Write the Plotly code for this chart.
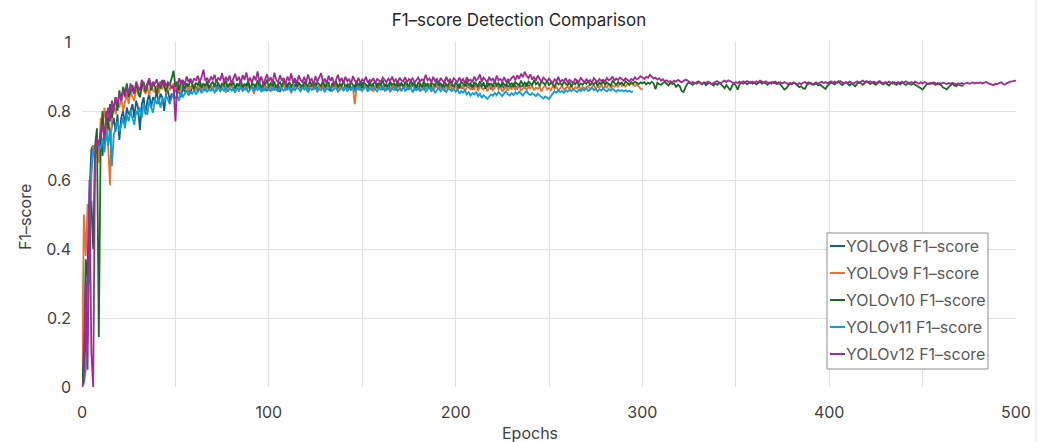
import plotly.graph_objects as go

series_names = ["YOLOv8 F1–score", "YOLOv9 F1–score", "YOLOv10 F1–score",
                "YOLOv11 F1–score", "YOLOv12 F1–score"]

yolov8 = [
    0.000, 0.020, 0.150, 0.360, 0.560, 0.690, 0.700, 0.660, 0.720, 0.690,
    0.740, 0.670, 0.750, 0.720, 0.770, 0.730, 0.760, 0.780, 0.740, 0.790,
    0.716, 0.780, 0.800, 0.760, 0.810, 0.790, 0.800, 0.820, 0.780, 0.830,
    0.810, 0.745, 0.820, 0.840, 0.790, 0.830, 0.850, 0.810, 0.840, 0.830,
    0.860, 0.820, 0.850, 0.840, 0.800, 0.850, 0.860, 0.830, 0.850, 0.840,
    0.870, 0.850, 0.860, 0.840, 0.870, 0.855, 0.880, 0.860, 0.850, 0.875,
    0.862, 0.870, 0.855, 0.878, 0.866, 0.872, 0.858, 0.880, 0.868, 0.874,
    0.860, 0.876, 0.869, 0.882, 0.864, 0.871, 0.878, 0.862, 0.875, 0.868,
    0.880, 0.858, 0.872, 0.866, 0.879, 0.870, 0.861, 0.876, 0.868, 0.882,
    0.865, 0.873, 0.859, 0.878, 0.869, 0.884, 0.862, 0.871, 0.876, 0.858,
    0.874, 0.867, 0.881, 0.863, 0.872, 0.878, 0.855, 0.869, 0.876, 0.864,
    0.879, 0.868, 0.873, 0.860, 0.877, 0.870, 0.884, 0.862, 0.874, 0.868,
    0.880, 0.859, 0.871, 0.876, 0.866, 0.882, 0.861, 0.873, 0.869, 0.878,
    0.864, 0.875, 0.870, 0.858, 0.877, 0.868, 0.881, 0.863, 0.872, 0.876,
    0.860, 0.874, 0.867, 0.879, 0.865, 0.871, 0.862, 0.878, 0.869, 0.874,
    0.883, 0.866, 0.872, 0.859, 0.877, 0.870, 0.875, 0.864, 0.880, 0.868,
    0.873, 0.861, 0.878, 0.869, 0.874, 0.885, 0.867, 0.872, 0.860, 0.876,
    0.870, 0.881, 0.866, 0.874, 0.878, 0.863, 0.871, 0.882, 0.868, 0.875,
    0.861, 0.879, 0.870, 0.874, 0.865, 0.880, 0.869, 0.873, 0.862, 0.877,
    0.871, 0.884, 0.866, 0.875, 0.869, 0.880, 0.863, 0.872, 0.878, 0.867,
    0.874, 0.860, 0.879, 0.870, 0.866, 0.881, 0.872, 0.868, 0.876, 0.862,
    0.873, 0.879, 0.867, 0.874, 0.870, 0.882, 0.865, 0.871, 0.877, 0.863,
    0.874, 0.869, 0.880, 0.866, 0.872, 0.876, 0.862, 0.878, 0.870, 0.874,
    0.867, 0.881, 0.872, 0.865, 0.877, 0.870, 0.874, 0.868, 0.879, 0.872,
    0.875,
]

yolov9 = [
    0.000, 0.500, 0.380, 0.530, 0.300, 0.620, 0.700, 0.670, 0.720, 0.650,
    0.780, 0.740, 0.810, 0.770, 0.700, 0.585, 0.800, 0.820, 0.790, 0.830,
    0.810, 0.840, 0.800, 0.830, 0.850, 0.820, 0.860, 0.840, 0.830, 0.870,
    0.850, 0.840, 0.880, 0.860, 0.850, 0.870, 0.845, 0.880, 0.860, 0.855,
    0.875, 0.850, 0.870, 0.865, 0.880, 0.850, 0.875, 0.860, 0.870, 0.880,
    0.860, 0.875, 0.855, 0.870, 0.880, 0.862, 0.874, 0.858, 0.870, 0.866,
    0.878, 0.860, 0.872, 0.868, 0.855, 0.876, 0.864, 0.871, 0.859, 0.874,
    0.866, 0.879, 0.857, 0.870, 0.862, 0.875, 0.868, 0.853, 0.872, 0.865,
    0.877, 0.860, 0.869, 0.874, 0.856, 0.871, 0.863, 0.878, 0.858, 0.870,
    0.865, 0.873, 0.850, 0.868, 0.876, 0.861, 0.870, 0.857, 0.874, 0.866,
    0.862, 0.875, 0.858, 0.869, 0.873, 0.855, 0.870, 0.864, 0.878, 0.859,
    0.871, 0.866, 0.852, 0.874, 0.862, 0.869, 0.877, 0.858, 0.870, 0.865,
    0.873, 0.856, 0.868, 0.875, 0.861, 0.870, 0.854, 0.872, 0.866, 0.878,
    0.860, 0.869, 0.874, 0.857, 0.871, 0.865, 0.879, 0.862, 0.868, 0.873,
    0.858, 0.870, 0.866, 0.875, 0.861, 0.869, 0.820, 0.866, 0.874, 0.859,
    0.871, 0.868, 0.877, 0.860, 0.869, 0.873, 0.856, 0.870, 0.865, 0.878,
    0.862, 0.871, 0.867, 0.858, 0.874, 0.865, 0.870, 0.876, 0.860, 0.868,
    0.873, 0.857, 0.869, 0.875, 0.863, 0.870, 0.866, 0.878, 0.859, 0.872,
    0.867, 0.862, 0.875, 0.860, 0.870, 0.868, 0.879, 0.855, 0.871, 0.866,
    0.874, 0.861, 0.869, 0.873, 0.858, 0.870, 0.865, 0.877, 0.862, 0.868,
    0.872, 0.859, 0.870, 0.866, 0.875, 0.856, 0.868, 0.873, 0.861, 0.869,
    0.864, 0.876, 0.858, 0.870, 0.866, 0.862, 0.874, 0.857, 0.869, 0.872,
    0.860, 0.868, 0.875, 0.863, 0.870, 0.856, 0.866, 0.873, 0.859, 0.868,
    0.864, 0.871, 0.862, 0.869, 0.875, 0.858, 0.866, 0.872, 0.861, 0.870,
    0.865, 0.873, 0.860, 0.868, 0.864, 0.871, 0.857, 0.869, 0.874, 0.862,
    0.867, 0.860, 0.872, 0.865, 0.870, 0.858, 0.866, 0.873, 0.862, 0.868,
    0.871, 0.864, 0.876, 0.860, 0.869, 0.866, 0.874, 0.861, 0.870, 0.865,
    0.868, 0.873, 0.862, 0.870, 0.876, 0.864, 0.871, 0.867, 0.878, 0.865,
    0.872, 0.868, 0.880, 0.866, 0.874, 0.870, 0.877, 0.869, 0.882, 0.873,
    0.876, 0.871, 0.879, 0.874, 0.881, 0.876, 0.872, 0.878, 0.870, 0.865,
    0.862,
]

yolov10 = [
    0.000, 0.100, 0.370, 0.320, 0.530, 0.540, 0.400, 0.700, 0.750, 0.145,
    0.720, 0.800, 0.700, 0.800, 0.750, 0.820, 0.780, 0.810, 0.840, 0.800,
    0.860, 0.830, 0.870, 0.850, 0.880, 0.840, 0.860, 0.875, 0.850, 0.880,
    0.860, 0.840, 0.870, 0.885, 0.855, 0.875, 0.890, 0.860, 0.880, 0.870,
    0.850, 0.880, 0.865, 0.890, 0.870, 0.855, 0.880, 0.875, 0.895, 0.917,
    0.870, 0.885, 0.860, 0.890, 0.875, 0.865, 0.880, 0.870, 0.893, 0.875,
    0.862, 0.882, 0.875, 0.890, 0.868, 0.880, 0.872, 0.886, 0.865, 0.878,
    0.884, 0.870, 0.892, 0.876, 0.866, 0.881, 0.873, 0.888, 0.869, 0.879,
    0.875, 0.885, 0.864, 0.880, 0.872, 0.890, 0.868, 0.878, 0.874, 0.887,
    0.862, 0.881, 0.876, 0.870, 0.889, 0.873, 0.866, 0.882, 0.875, 0.891,
    0.869, 0.880, 0.874, 0.886, 0.860, 0.878, 0.883, 0.871, 0.888, 0.876,
    0.867, 0.884, 0.873, 0.879, 0.889, 0.870, 0.881, 0.875, 0.864, 0.885,
    0.877, 0.871, 0.887, 0.874, 0.880, 0.866, 0.883, 0.876, 0.872, 0.889,
    0.870, 0.878, 0.884, 0.858, 0.881, 0.875, 0.887, 0.869, 0.879, 0.873,
    0.885, 0.871, 0.877, 0.862, 0.883, 0.876, 0.870, 0.888, 0.874, 0.880,
    0.866, 0.882, 0.877, 0.871, 0.886, 0.873, 0.879, 0.884, 0.868, 0.881,
    0.875, 0.889, 0.872, 0.878, 0.862, 0.883, 0.876, 0.880, 0.871, 0.887,
    0.874, 0.881, 0.869, 0.885, 0.877, 0.872, 0.888, 0.875, 0.880, 0.867,
    0.883, 0.876, 0.871, 0.886, 0.874, 0.879, 0.864, 0.882, 0.877, 0.873,
    0.889, 0.875, 0.880, 0.869, 0.884, 0.876, 0.872, 0.887, 0.878, 0.870,
    0.882, 0.876, 0.866, 0.885, 0.879, 0.873, 0.888, 0.874, 0.881, 0.868,
    0.884, 0.877, 0.871, 0.886, 0.875, 0.880, 0.865, 0.883, 0.876, 0.879,
    0.872, 0.887, 0.874, 0.881, 0.869, 0.885, 0.877, 0.873, 0.889, 0.876,
    0.880, 0.870, 0.884, 0.878, 0.874, 0.888, 0.876, 0.882, 0.871, 0.885,
    0.879, 0.875, 0.890, 0.877, 0.883, 0.872, 0.886, 0.880, 0.876, 0.889,
    0.874, 0.882, 0.878, 0.869, 0.885, 0.877, 0.881, 0.873, 0.887, 0.879,
    0.875, 0.884, 0.870, 0.882, 0.877, 0.886, 0.873, 0.880, 0.876, 0.883,
    0.879, 0.888, 0.874, 0.881, 0.877, 0.885, 0.872, 0.882, 0.878, 0.886,
    0.876, 0.883, 0.879, 0.874, 0.887, 0.880, 0.876, 0.884, 0.878, 0.882,
    0.875, 0.886, 0.880, 0.877, 0.884, 0.879, 0.885, 0.881, 0.878, 0.883,
    0.880, 0.884, 0.877, 0.882, 0.879, 0.885, 0.880, 0.863, 0.882, 0.878,
    0.876, 0.881, 0.884, 0.879, 0.874, 0.882, 0.878, 0.880, 0.870, 0.876,
    0.872, 0.858, 0.855, 0.868, 0.879, 0.883, 0.880, 0.876, 0.882, 0.879,
    0.884, 0.880, 0.877, 0.882, 0.875, 0.879, 0.883, 0.878, 0.874, 0.880,
    0.876, 0.881, 0.878, 0.872, 0.866, 0.875, 0.868, 0.860, 0.873, 0.880,
    0.874, 0.862, 0.877, 0.882, 0.879, 0.883, 0.878, 0.881, 0.884, 0.879,
    0.882, 0.877, 0.880, 0.885, 0.879, 0.883, 0.880, 0.876, 0.882, 0.879,
    0.884, 0.881, 0.878, 0.883, 0.876, 0.870, 0.862, 0.866, 0.874, 0.880,
    0.877, 0.882, 0.879, 0.875, 0.869, 0.872, 0.866, 0.864, 0.875, 0.879,
    0.882, 0.878, 0.876, 0.880, 0.874, 0.877, 0.873, 0.868, 0.864, 0.872,
    0.879, 0.883, 0.880, 0.877, 0.882, 0.886, 0.879, 0.875, 0.881, 0.884,
    0.878, 0.874, 0.880, 0.876, 0.872, 0.879, 0.883, 0.880, 0.876, 0.881,
    0.885, 0.882, 0.878, 0.883, 0.879, 0.876, 0.881, 0.884, 0.880, 0.877,
    0.882, 0.878, 0.874, 0.880, 0.884, 0.879, 0.876, 0.881, 0.877, 0.883,
    0.879, 0.875, 0.881, 0.878, 0.876, 0.880, 0.877, 0.874, 0.870, 0.866,
    0.862, 0.870, 0.876, 0.880, 0.878, 0.882, 0.879, 0.876, 0.881, 0.878,
    0.874, 0.868, 0.865, 0.863, 0.870, 0.876, 0.879, 0.874, 0.872, 0.877,
    0.875, 0.873, 0.874,
]

yolov11 = [
    0.000, 0.010, 0.050, 0.150, 0.450, 0.620, 0.690, 0.680, 0.710, 0.700,
    0.690, 0.720, 0.680, 0.740, 0.700, 0.745, 0.640, 0.730, 0.750, 0.770,
    0.740, 0.760, 0.780, 0.750, 0.790, 0.770, 0.800, 0.780, 0.760, 0.800,
    0.790, 0.810, 0.780, 0.820, 0.800, 0.790, 0.830, 0.810, 0.795, 0.835,
    0.820, 0.840, 0.810, 0.835, 0.825, 0.845, 0.830, 0.820, 0.840, 0.850,
    0.835, 0.845, 0.830, 0.855, 0.840, 0.850, 0.860, 0.845, 0.855, 0.850,
    0.862, 0.848, 0.856, 0.865, 0.852, 0.860, 0.868, 0.855, 0.863, 0.858,
    0.866, 0.854, 0.862, 0.869, 0.857, 0.864, 0.859, 0.871, 0.856, 0.865,
    0.860, 0.868, 0.853, 0.866, 0.862, 0.870, 0.858, 0.864, 0.868, 0.855,
    0.863, 0.869, 0.857, 0.866, 0.861, 0.872, 0.855, 0.865, 0.860, 0.868,
    0.863, 0.858, 0.870, 0.861, 0.866, 0.856, 0.869, 0.863, 0.859, 0.867,
    0.862, 0.871, 0.855, 0.866, 0.860, 0.868, 0.864, 0.857, 0.870, 0.862,
    0.866, 0.854, 0.869, 0.861, 0.865, 0.872, 0.858, 0.864, 0.860, 0.868,
    0.855, 0.866, 0.862, 0.870, 0.858, 0.864, 0.868, 0.856, 0.863, 0.867,
    0.860, 0.869, 0.857, 0.865, 0.861, 0.870, 0.855, 0.866, 0.862, 0.868,
    0.858, 0.864, 0.871, 0.856, 0.866, 0.861, 0.869, 0.863, 0.857, 0.867,
    0.862, 0.870, 0.859, 0.865, 0.868, 0.855, 0.866, 0.861, 0.869, 0.858,
    0.864, 0.860, 0.871, 0.857, 0.866, 0.862, 0.868, 0.854, 0.865, 0.861,
    0.869, 0.858, 0.864, 0.867, 0.856, 0.863, 0.870, 0.859, 0.866, 0.852,
    0.862, 0.868, 0.857, 0.864, 0.860, 0.855, 0.866, 0.861, 0.858, 0.864,
    0.856, 0.862, 0.850, 0.858, 0.853, 0.860, 0.848, 0.855, 0.845, 0.852,
    0.848, 0.856, 0.843, 0.850, 0.838, 0.846, 0.840, 0.835, 0.842, 0.848,
    0.844, 0.852, 0.846, 0.855, 0.849, 0.843, 0.851, 0.857, 0.848, 0.845,
    0.852, 0.846, 0.854, 0.849, 0.856, 0.850, 0.845, 0.853, 0.858, 0.850,
    0.846, 0.852, 0.848, 0.843, 0.850, 0.846, 0.840, 0.836, 0.842, 0.838,
    0.835, 0.843, 0.850, 0.857, 0.853, 0.860, 0.855, 0.858, 0.852, 0.861,
    0.856, 0.862, 0.858, 0.864, 0.859, 0.855, 0.862, 0.857, 0.863, 0.860,
    0.866, 0.858, 0.862, 0.868, 0.860, 0.864, 0.857, 0.863, 0.859, 0.866,
    0.861, 0.857, 0.863, 0.859, 0.865, 0.860, 0.856, 0.862, 0.858, 0.861,
    0.857, 0.860, 0.856, 0.859, 0.855, 0.857,
]

yolov12 = [
    0.000, 0.020, 0.300, 0.050, 0.600, 0.100, 0.000, 0.680, 0.720, 0.700,
    0.740, 0.760, 0.720, 0.780, 0.810, 0.770, 0.830, 0.800, 0.840, 0.820,
    0.850, 0.830, 0.860, 0.840, 0.870, 0.850, 0.880, 0.860, 0.850, 0.885,
    0.870, 0.860, 0.890, 0.875, 0.865, 0.880, 0.895, 0.870, 0.885, 0.878,
    0.892, 0.870, 0.885, 0.875, 0.890, 0.872, 0.884, 0.878, 0.866, 0.875,
    0.770, 0.870, 0.895, 0.880, 0.890, 0.875, 0.900, 0.885, 0.893, 0.880,
    0.895, 0.888, 0.902, 0.884, 0.898, 0.920, 0.887, 0.896, 0.882, 0.900,
    0.890, 0.905, 0.884, 0.897, 0.888, 0.910, 0.882, 0.899, 0.886, 0.903,
    0.879, 0.894, 0.908, 0.887, 0.899, 0.881, 0.904, 0.890, 0.912, 0.885,
    0.897, 0.880, 0.902, 0.889, 0.915, 0.884, 0.900, 0.877, 0.893, 0.906,
    0.886, 0.898, 0.879, 0.911, 0.890, 0.883, 0.904, 0.888, 0.896, 0.876,
    0.900, 0.887, 0.909, 0.882, 0.895, 0.878, 0.903, 0.890, 0.884, 0.899,
    0.880, 0.906, 0.888, 0.893, 0.876, 0.901, 0.885, 0.897, 0.910, 0.883,
    0.894, 0.879, 0.902, 0.887, 0.898, 0.875, 0.891, 0.905, 0.884, 0.896,
    0.881, 0.899, 0.886, 0.893, 0.878, 0.901, 0.888, 0.884, 0.896, 0.880,
    0.892, 0.886, 0.899, 0.882, 0.890, 0.887, 0.895, 0.880, 0.893, 0.888,
    0.884, 0.897, 0.890, 0.883, 0.894, 0.887, 0.900, 0.885, 0.892, 0.881,
    0.896, 0.889, 0.886, 0.898, 0.883, 0.893, 0.888, 0.895, 0.882, 0.890,
    0.897, 0.885, 0.892, 0.888, 0.905, 0.889, 0.894, 0.883, 0.899, 0.887,
    0.893, 0.880, 0.896, 0.888, 0.884, 0.899, 0.886, 0.892, 0.881, 0.895,
    0.889, 0.884, 0.897, 0.886, 0.893, 0.880, 0.898, 0.887, 0.891, 0.883,
    0.900, 0.888, 0.894, 0.906, 0.885, 0.897, 0.890, 0.883, 0.899, 0.887,
    0.895, 0.882, 0.903, 0.889, 0.893, 0.886, 0.898, 0.884, 0.892, 0.888,
    0.896, 0.901, 0.889, 0.904, 0.893, 0.908, 0.898, 0.914, 0.902, 0.895,
    0.906, 0.891, 0.899, 0.887, 0.903, 0.893, 0.884, 0.897, 0.890, 0.886,
    0.894, 0.888, 0.881, 0.892, 0.886, 0.899, 0.884, 0.890, 0.887, 0.895,
    0.882, 0.891, 0.886, 0.880, 0.893, 0.888, 0.884, 0.896, 0.889, 0.883,
    0.892, 0.886, 0.890, 0.881, 0.895, 0.888, 0.884, 0.893, 0.887, 0.891,
    0.885, 0.896, 0.889, 0.892, 0.900, 0.888, 0.894, 0.890, 0.897, 0.892,
    0.888, 0.895, 0.891, 0.886, 0.893, 0.889, 0.898, 0.892, 0.895, 0.901,
    0.897, 0.893, 0.899, 0.896, 0.905, 0.898, 0.894, 0.897, 0.891, 0.895,
    0.888, 0.892, 0.886, 0.889, 0.884, 0.887, 0.883, 0.888, 0.885, 0.890,
    0.886, 0.883, 0.887, 0.891, 0.889, 0.885, 0.881, 0.884, 0.880, 0.883,
    0.886, 0.882, 0.879, 0.883, 0.881, 0.885, 0.882, 0.878, 0.881, 0.884,
    0.887, 0.883, 0.880, 0.885, 0.888, 0.884, 0.889, 0.886, 0.883, 0.880,
    0.884, 0.881, 0.885, 0.882, 0.886, 0.883, 0.887, 0.884, 0.881, 0.885,
    0.882, 0.886, 0.883, 0.888, 0.885, 0.882, 0.886, 0.883, 0.880, 0.884,
    0.881, 0.885, 0.882, 0.879, 0.883, 0.880, 0.884, 0.881, 0.878, 0.882,
    0.879, 0.883, 0.880, 0.877, 0.881, 0.878, 0.882, 0.884, 0.880, 0.883,
    0.879, 0.876, 0.880, 0.883, 0.879, 0.882, 0.885, 0.881, 0.884, 0.880,
    0.883, 0.886, 0.882, 0.885, 0.881, 0.884, 0.887, 0.883, 0.880, 0.884,
    0.881, 0.885, 0.882, 0.879, 0.883, 0.886, 0.882, 0.885, 0.888, 0.884,
    0.887, 0.883, 0.886, 0.882, 0.885, 0.881, 0.884, 0.887, 0.883, 0.880,
    0.884, 0.881, 0.885, 0.882, 0.879, 0.883, 0.880, 0.884, 0.881, 0.885,
    0.882, 0.886, 0.883, 0.880, 0.884, 0.881, 0.885, 0.882, 0.879, 0.883,
    0.880, 0.884, 0.881, 0.878, 0.882, 0.879, 0.883, 0.880, 0.877, 0.881,
    0.879, 0.882, 0.880, 0.878, 0.881, 0.879, 0.882, 0.880, 0.877, 0.880,
    0.879, 0.881, 0.878, 0.880, 0.882, 0.879, 0.881, 0.883, 0.880, 0.882,
    0.881, 0.883, 0.880, 0.882, 0.884, 0.881, 0.879, 0.877, 0.875, 0.879,
    0.878, 0.881, 0.883, 0.879, 0.876, 0.880, 0.883, 0.885, 0.886, 0.887,
    0.888,
]

x_ticks = [0, 100, 200, 300, 400, 500]
y_ticks = [0, 0.2, 0.4, 0.6, 0.8, 1]
y_tick_labels = ["0", "0.2", "0.4", "0.6", "0.8", "1"]

all_series = [yolov8, yolov9, yolov10, yolov11, yolov12]
colors = ["#156082", "#E97132", "#196B24", "#0F9ED5", "#A02B93"]

FONT = "Inter, Roboto, sans-serif"
W, H = 1058, 442
L, R, T, B = 82, 1016, 42, 387  # plot area in pixels


def px(xpix):
    return (xpix - L) / (R - L)


def py(ypix):
    return (B - ypix) / (B - T)


fig = go.Figure()
for name, vals, col in zip(series_names, all_series, colors):
    fig.add_trace(go.Scatter(
        x=list(range(len(vals))), y=vals, mode="lines", name=name,
        line=dict(color=col, width=1.8), showlegend=False,
    ))

fig.update_layout(
    width=W, height=H,
    margin=dict(l=L, r=W - R, t=T, b=H - B),
    paper_bgcolor="white", plot_bgcolor="white",
    font=dict(family=FONT, color="#404040"),
    title=dict(text="F1–score Detection Comparison", x=519 / W, xref="container",
               xanchor="center", y=1 - 20 / H, yref="container", yanchor="middle",
               font=dict(size=17, color="#262626", family=FONT)),
    showlegend=False,
)

fig.update_xaxes(
    range=[0, 500], tickvals=x_ticks, ticktext=[str(v) for v in x_ticks],
    showgrid=True, gridcolor="#e0e0e0", gridwidth=1,
    minor=dict(dtick=50, showgrid=True, gridcolor="#e0e0e0", gridwidth=1),
    zeroline=False, showline=False, ticks="", ticklabelstandoff=14,
    tickfont=dict(size=16, color="#404040"),
)
fig.update_yaxes(
    range=[0, 1], tickvals=y_ticks, ticktext=y_tick_labels,
    showgrid=True, gridcolor="#e0e0e0", gridwidth=1,
    zeroline=False, showline=False, ticks="", ticklabelstandoff=10,
    tickfont=dict(size=16, color="#404040"),
)

annotations = [
    dict(text="Epochs", xref="paper", yref="paper", x=px(530), y=py(433),
         xanchor="center", yanchor="middle", showarrow=False,
         font=dict(size=16, color="#404040", family=FONT)),
    dict(text="F1–score", xref="paper", yref="paper", x=px(25), y=py(217),
         xanchor="center", yanchor="middle", showarrow=False, textangle=-90,
         font=dict(size=16, color="#404040", family=FONT)),
]
shapes = [
    dict(type="line", xref="paper", yref="paper", x0=px(1036), x1=px(1036),
         y0=py(H), y1=py(0), line=dict(color="#e0e0e0", width=1)),
    dict(type="rect", xref="paper", yref="paper", x0=px(827), x1=px(988),
         y0=py(369), y1=py(233), line=dict(color="#8c8c8c", width=1),
         fillcolor="white", layer="above"),
]
row_y = [246, 273, 300, 327, 354]
for name, col, ry in zip(series_names, colors, row_y):
    shapes.append(dict(type="line", xref="paper", yref="paper",
                       x0=px(830), x1=px(845), y0=py(ry), y1=py(ry),
                       line=dict(color=col, width=2), layer="above"))
    annotations.append(dict(text=name, xref="paper", yref="paper",
                            x=px(845), y=py(ry), xanchor="left", yanchor="middle",
                            showarrow=False, xshift=-1,
                            font=dict(size=16, color="#595959", family=FONT)))

fig.update_layout(annotations=annotations, shapes=shapes)

fig.write_html("out.html")
